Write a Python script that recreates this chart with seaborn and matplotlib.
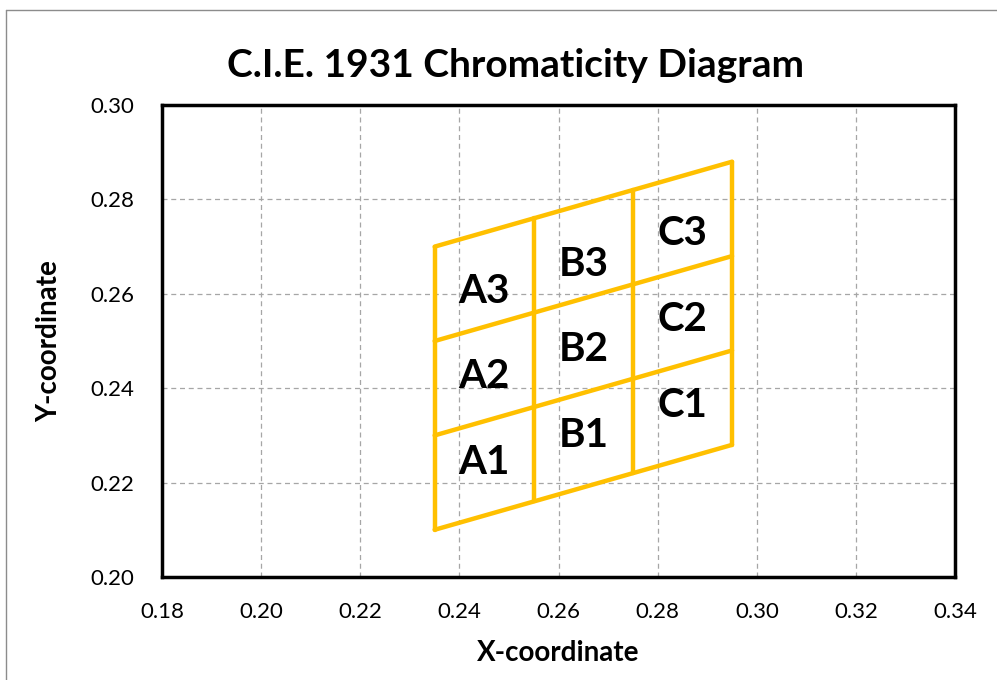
import pandas as pd
import seaborn as sns
import matplotlib.pyplot as plt
from matplotlib.lines import Line2D

# bin boundaries: vertical edges and the y value of each sloped edge at those x
edge_x = [0.235, 0.255, 0.275, 0.295]
edge_y = [
    [0.210, 0.216, 0.222, 0.228],
    [0.230, 0.236, 0.242, 0.248],
    [0.250, 0.256, 0.262, 0.268],
    [0.270, 0.276, 0.282, 0.288],
]

bin_names = ['A1', 'A2', 'A3', 'B1', 'B2', 'B3', 'C1', 'C2', 'C3']
bin_label_x = [0.245, 0.245, 0.245, 0.265, 0.265, 0.265, 0.285, 0.285, 0.285]
bin_label_y = [0.2243, 0.2424, 0.2605, 0.2300, 0.2483, 0.2662, 0.2363, 0.2546, 0.2728]

x_ticks = [0.18, 0.20, 0.22, 0.24, 0.26, 0.28, 0.30, 0.32, 0.34]
y_ticks = [0.20, 0.22, 0.24, 0.26, 0.28, 0.30]


def build_segments():
    rows = []
    seg = 0
    # sloped edges
    for ys in edge_y:
        for x, y in zip(edge_x, ys):
            rows.append({'seg': seg, 'x': x, 'y': y})
        seg += 1
    # vertical edges
    for j, x in enumerate(edge_x):
        rows.append({'seg': seg, 'x': x, 'y': edge_y[0][j]})
        rows.append({'seg': seg, 'x': x, 'y': edge_y[-1][j]})
        seg += 1
    return pd.DataFrame(rows)


sns.set_style('white', rc={'text.color': 'black', 'axes.labelcolor': 'black',
                           'xtick.color': 'black', 'ytick.color': 'black'})
plt.rcParams['font.family'] = ['Lato', 'DejaVu Sans']

fig = plt.figure(figsize=(9.97, 6.8), dpi=100)
ax = fig.add_axes([0.1625, 0.1515, 0.7955, 0.694])

df = build_segments()
sns.lineplot(data=df, x='x', y='y', units='seg', estimator=None, sort=False,
             color='#FFC000', linewidth=3.2, ax=ax, legend=False, zorder=3)

for name, lx, ly in zip(bin_names, bin_label_x, bin_label_y):
    ax.text(lx, ly, name, ha='center', va='center', fontsize=29,
            fontweight='bold', color='black', zorder=4)

ax.set_xlim(0.18, 0.34)
ax.set_ylim(0.20, 0.30)
ax.set_xticks(x_ticks)
ax.set_yticks(y_ticks)
ax.set_xticklabels(['%.2f' % v for v in x_ticks], fontsize=16)
ax.set_yticklabels(['%.2f' % v for v in y_ticks], fontsize=16)
ax.tick_params(axis='x', length=0, pad=18)
ax.tick_params(axis='y', length=0, pad=20)
ax.grid(True, color='#a6a6a6', linestyle=(0, (4, 3)), linewidth=0.9)
ax.set_axisbelow(True)

for s in ax.spines.values():
    s.set_visible(True)
    s.set_color('black')
    s.set_linewidth(2.5)

ax.set_xlabel('X-coordinate', fontsize=20, fontweight='bold', labelpad=13)
ax.set_ylabel('Y-coordinate', fontsize=20, fontweight='bold', labelpad=20)
fig.suptitle('C.I.E. 1931 Chromaticity Diagram', fontsize=28, fontweight='bold',
             x=0.517, y=0.903, va='center')

# thin outer frame of the chart area (left and top edges visible)
fig.add_artist(Line2D([0.0065, 0.0065], [0.0, 0.986], color='#8c8c8c',
                      linewidth=1, transform=fig.transFigure))
fig.add_artist(Line2D([0.0065, 1.0], [0.986, 0.986], color='#8c8c8c',
                      linewidth=1, transform=fig.transFigure))

fig.savefig('out.png', dpi=100)
